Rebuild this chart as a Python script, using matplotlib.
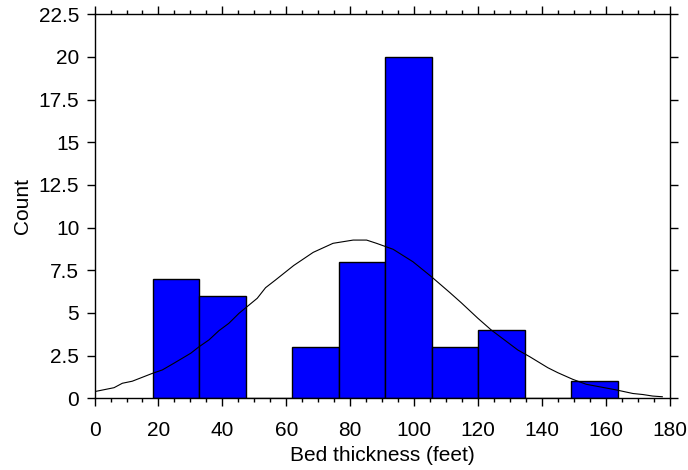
import numpy as np
from matplotlib import pyplot as plt
from matplotlib.ticker import MultipleLocator

plt.rcParams['font.family'] = ['Liberation Sans', 'DejaVu Sans']

# histogram bins (left edges) and counts
bin_left = [18.2, 32.75, 47.3, 61.85, 76.4, 90.95, 105.5, 120.05, 134.6, 149.15]
bin_width = 14.55
counts = [7, 6, 0, 3, 8, 20, 3, 4, 0, 1]

# fitted curve
curve_x = [0, 6.1, 8.7, 11.8, 18.1, 21.2, 24.8, 30.1, 32.7, 35.8, 38.9, 42.0, 45.2,
           50.9, 53.5, 56.6, 62.3, 68.4, 74.6, 80.9, 85.1, 88.2, 93.4, 99.6, 105.4,
           111.1, 114.7, 119.9, 124.1, 132.4, 136.1, 141.8, 144.9, 149.6, 153.8,
           163.2, 168.4, 171.5, 174.6, 177.6]
curve_y = [0.39, 0.62, 0.88, 1.0, 1.46, 1.66, 2.05, 2.64, 3.02, 3.42, 3.96, 4.39, 4.98,
           5.86, 6.48, 6.93, 7.78, 8.55, 9.08, 9.27, 9.27, 9.08, 8.73, 8.0, 7.12,
           6.2, 5.6, 4.69, 4.0, 2.83, 2.44, 1.79, 1.5, 1.11, 0.82,
           0.49, 0.28, 0.22, 0.13, 0.09]

y_ticks = [0, 2.5, 5, 7.5, 10, 12.5, 15, 17.5, 20, 22.5]
y_labels = ['0', '2.5', '5', '7.5', '10', '12.5', '15', '17.5', '20', '22.5']

fig = plt.figure(figsize=(6.88, 4.70), dpi=100)
ax = fig.add_axes([0.1374, 0.1526, 0.8364, 0.817])

ax.bar(bin_left, counts, width=bin_width, align='edge', color='#0000ff',
       edgecolor='black', linewidth=1.0, zorder=2)
ax.plot(curve_x, curve_y, color='black', linewidth=0.8, zorder=3)

ax.set_xlim(0, 180)
ax.set_ylim(0, 22.5)
ax.xaxis.set_major_locator(MultipleLocator(20))
ax.xaxis.set_minor_locator(MultipleLocator(5))
ax.set_yticks(y_ticks)
ax.set_yticklabels(y_labels)

ax.tick_params(axis='both', which='both', direction='out', width=1.0, labelsize=15)
ax.tick_params(axis='x', which='major', length=6, top=True, pad=10)
ax.tick_params(axis='x', which='minor', length=3, top=True)
ax.tick_params(axis='y', which='major', length=6, right=True, pad=5)
for s in ax.spines.values():
    s.set_linewidth(1.0)

ax.set_xlabel('Bed thickness (feet)', fontsize=15, labelpad=5)
ax.set_ylabel('Count', fontsize=15, labelpad=5)

fig.savefig('out.png', dpi=100)
